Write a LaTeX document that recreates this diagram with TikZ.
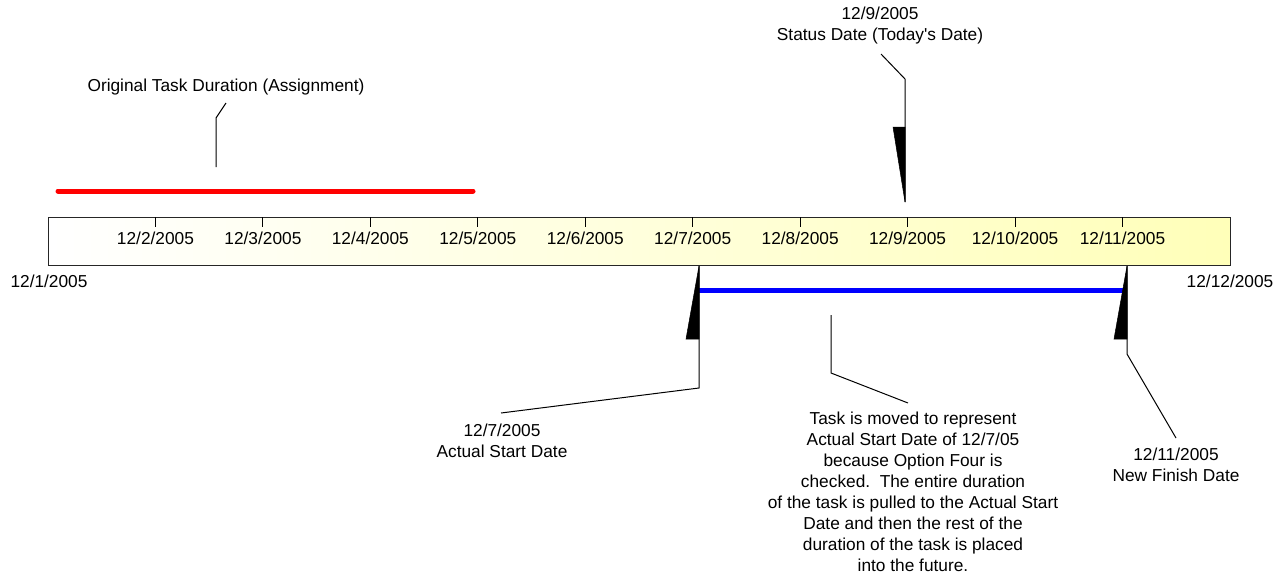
\documentclass[tikz,border=0pt]{standalone}
\usepackage{fontspec}
\setmainfont{Liberation Sans}
\frenchspacing
\definecolor{barend}{RGB}{255,255,185}
\definecolor{taskred}{RGB}{255,0,0}
\definecolor{taskblue}{RGB}{0,0,255}
\begin{document}
\begin{tikzpicture}[x=1pt,y=-1pt,
  lbl/.style={font=\fontsize{17.3}{21}\selectfont, inner sep=0pt, align=center},
  tick/.style={line width=1pt},
  callout/.style={line width=1pt},
  wedge/.style={fill=black, draw=black, line width=0.5pt},
  taskbar/.style={line width=5pt, line cap=round}]
\useasboundingbox (0,0) rectangle (1285,573);
% timeline bar
\node[draw=black!85, line width=1.3pt, left color=white, right color=barend,
      minimum width=1182pt, minimum height=48pt, inner sep=0pt, anchor=north west]
      (bar) at (48,217) {};
% ticks and labels
\foreach \i/\d in {1/2,2/3,3/4,4/5,5/6,6/7,7/8,8/9,9/10,10/11}{
  \coordinate (t\d) at ({48+107.45*\i},217);
  \draw[tick] (t\d) -- ++(0,10);
  \node[lbl, anchor=base] (l\d) at ({48+107.45*\i},244) {12/\d/2005};
}
\node[lbl, anchor=base] (l1) at (49,287) {12/1/2005};
\node[lbl, anchor=base] (l12) at (1230,287) {12/12/2005};
% original task (red)
\coordinate (r1) at (58,191);
\coordinate (r2) at (473,191);
\draw[taskbar, taskred] (r1) -- (r2);
\node[lbl] (orig) at (226,87) {Original Task Duration (Assignment)};
\coordinate (oc1) at (216,167);
\coordinate (oc2) at (216,118);
\coordinate (oc3) at (226,103);
\draw[callout] (oc1) -- (oc2) -- (oc3);
% status date
\node[lbl] (status) at (880,26) {12/9/2005\\Status Date (Today\textquotesingle s Date)};
\coordinate (sc1) at (881,54);
\coordinate (sc2) at (905,79);
\coordinate (sc3) at (905,202);
\draw[callout] (sc1) -- (sc2) -- (sc3);
\fill[wedge] (893,127) -- (905,127) -- (905,202) -- cycle;
% new task (blue)
\coordinate (b1) at (699,290);
\coordinate (b2) at (1127,290);
\draw[taskbar, taskblue, line cap=butt] (b1) -- (b2);
% actual start
\coordinate (ac1) at (699,266);
\coordinate (ac2) at (699,388);
\coordinate (ac3) at (501,413);
\draw[callout] (ac1) -- (ac2) -- (ac3);
\fill[wedge] (699,266) -- (699,339) -- (686,339) -- cycle;
\node[lbl] (start) at (502,441) {12/7/2005\\Actual Start Date};
% new finish
\coordinate (fc1) at (1127,266);
\coordinate (fc2) at (1127,354);
\coordinate (fc3) at (1176,438);
\draw[callout] (fc1) -- (fc2) -- (fc3);
\fill[wedge] (1127,266) -- (1127,339) -- (1114,339) -- cycle;
\node[lbl] (finish) at (1176,465) {12/11/2005\\New Finish Date};
% middle note
\coordinate (mc1) at (831,315);
\coordinate (mc2) at (831,373);
\coordinate (mc3) at (908,403);
\draw[callout] (mc1) -- (mc2) -- (mc3);
\node[lbl] (note) at (913,492) {Task is moved to represent\\Actual Start Date of 12/7/05\\because Option Four is\\checked.\ \ The entire duration\\of the task is pulled to the Actual Start\\Date and then the rest of the\\duration of the task is placed\\into the future.};
\end{tikzpicture}
\end{document}
